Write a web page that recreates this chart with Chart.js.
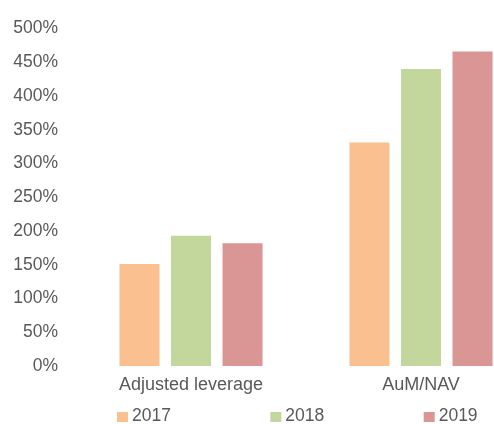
<!DOCTYPE html>
<html>
<head>
<meta charset="utf-8">
<script src="https://cdn.jsdelivr.net/npm/chart.js@4/dist/chart.umd.min.js"></script>
<style>
  html, body { margin: 0; padding: 0; background: #fff; overflow: hidden; }
  #wrap { position: relative; width: 560px; height: 424px; }
</style>
</head>
<body>
<div id="wrap"><canvas id="chart"></canvas></div>
<script>
const categories = ['Adjusted leverage', 'AuM/NAV'];
const years = ['2017', '2018', '2019'];
const values2017 = [151, 331];
const values2018 = [193, 440];
const values2019 = [182, 466];
const yTicks = [0, 50, 100, 150, 200, 250, 300, 350, 400, 450, 500];

const colors = ['#FAC090', '#C3D69B', '#D99694'];
const TEXT = '#595959';
const FONT = "'Liberation Sans', Arial, sans-serif";

// legend spread across the plot width, like the original
const spreadLegend = {
    id: 'spreadLegend',
    afterDraw(chart) {
        const ctx = chart.ctx;
        const area = chart.chartArea;
        const step = area.width / 3;
        const y = 416.5;
        ctx.save();
        ctx.font = '17.5px ' + FONT;
        ctx.textBaseline = 'middle';
        ctx.textAlign = 'left';
        chart.data.datasets.forEach((ds, i) => {
            const x = area.left + 41 + i * step;
            ctx.fillStyle = ds.backgroundColor;
            ctx.fillRect(x, y - 4.5, 11, 10);
            ctx.fillStyle = TEXT;
            ctx.fillText(ds.label, x + 15, y);
        });
        ctx.restore();
    }
};

new Chart(document.getElementById('chart'), {
    type: 'bar',
    data: {
        labels: categories,
        datasets: [
            { label: years[0], data: values2017, backgroundColor: colors[0] },
            { label: years[1], data: values2018, backgroundColor: colors[1] },
            { label: years[2], data: values2019, backgroundColor: colors[2] }
        ]
    },
    options: {
        responsive: true,
        maintainAspectRatio: false,
        animation: false,
        layout: { padding: { left: 0, right: 24, top: 22, bottom: 28 } },
        datasets: {
            bar: { categoryPercentage: 0.672, barPercentage: 0.777, borderWidth: 0 }
        },
        scales: {
            x: {
                grid: { display: false, drawTicks: false },
                border: { display: false },
                ticks: { color: TEXT, font: { family: FONT, size: 18 }, padding: 8, maxRotation: 0 },
                afterFit: (s) => { s.height = 30; }
            },
            y: {
                min: 0,
                max: 500,
                afterBuildTicks: (s) => { s.ticks = yTicks.map(v => ({ value: v })); },
                grid: { display: false, drawTicks: false },
                border: { display: false },
                ticks: {
                    color: TEXT,
                    font: { family: FONT, size: 17.5 },
                    padding: 18,
                    callback: (v) => v + '%'
                },
                afterFit: (s) => { s.width = 76; }
            }
        },
        plugins: {
            legend: { display: false },
            tooltip: { enabled: false }
        }
    },
    plugins: [spreadLegend]
});
</script>
</body>
</html>
